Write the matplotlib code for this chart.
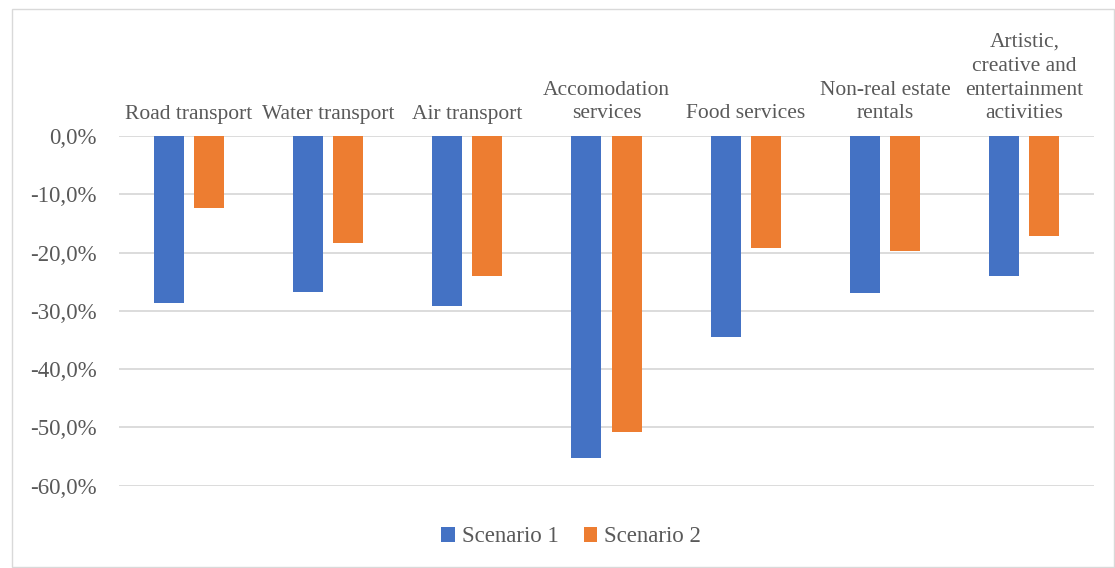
import matplotlib
matplotlib.use("Agg")
import matplotlib.pyplot as plt
import numpy as np
from matplotlib.patches import Rectangle
from matplotlib.ticker import FuncFormatter, MultipleLocator

plt.rcParams["font.family"] = ["Liberation Serif", "DejaVu Serif"]

# ── data ──────────────────────────────────────────────────────────────────────
categories = [
    "Road transport",
    "Water transport",
    "Air transport",
    "Accomodation\nservices",
    "Food services",
    "Non-real estate\nrentals",
    "Artistic,\ncreative and\nentertainment\nactivities",
]
scenario_1 = [-0.286, -0.267, -0.292, -0.553, -0.345, -0.269, -0.241]
scenario_2 = [-0.123, -0.183, -0.240, -0.509, -0.193, -0.197, -0.172]
series_names = ["Scenario 1", "Scenario 2"]

BLUE = "#4472C4"
ORANGE = "#ED7D31"
GRID = "#D9D9D9"
TEXT = "#595959"
FS = 16.5       # ticks / legend
FS_CAT = 15.5   # category labels

fig = plt.figure(figsize=(11.15, 5.68), dpi=100)
fig.patch.set_facecolor("white")

# outer chart border
fig.patches.append(Rectangle((12 / 1115, 0.002), 1 - 13 / 1115, 1 - 10 / 568,
                             transform=fig.transFigure, fill=False,
                             edgecolor="#D9D9D9", linewidth=1.0))

ax = fig.add_axes([119 / 1115, 1 - 485.5 / 568, (1094 - 119) / 1115, (485.5 - 136) / 568])

x = np.arange(len(categories))
w = 0.216
off = 0.144
ax.bar(x - off, scenario_1, w, color=BLUE, label=series_names[0], zorder=3)
ax.bar(x + off, scenario_2, w, color=ORANGE, label=series_names[1], zorder=3)

ax.set_xlim(-0.5, len(categories) - 0.5)
ax.set_ylim(-0.6, 0.0)
ax.yaxis.set_major_locator(MultipleLocator(0.1))
ax.yaxis.set_major_formatter(
    FuncFormatter(lambda v, _: f"{v * 100:.1f}%".replace(".", ",").replace("-0,0", "0,0")))
ax.grid(axis="y", color=GRID, linewidth=1.3, zorder=0)
ax.set_axisbelow(True)

for sp in ax.spines.values():
    sp.set_visible(False)

ax.xaxis.tick_top()
ax.set_xticks(x)
ax.set_xticklabels(categories, fontsize=FS_CAT, color=TEXT, linespacing=1.35)
ax.tick_params(axis="x", length=0, pad=9)
ax.tick_params(axis="y", length=0, pad=16, labelsize=FS, labelcolor=TEXT)
ax.set_ylim(-0.6, 0.0)

leg = fig.legend(loc="center", bbox_to_anchor=(571 / 1115, 1 - 537 / 568), ncol=2,
                 frameon=False, fontsize=FS, handlelength=0.6, handleheight=0.6,
                 handletextpad=0.3, columnspacing=1.1)
for t in leg.get_texts():
    t.set_color(TEXT)

fig.savefig("out.png", dpi=100, facecolor="white")
